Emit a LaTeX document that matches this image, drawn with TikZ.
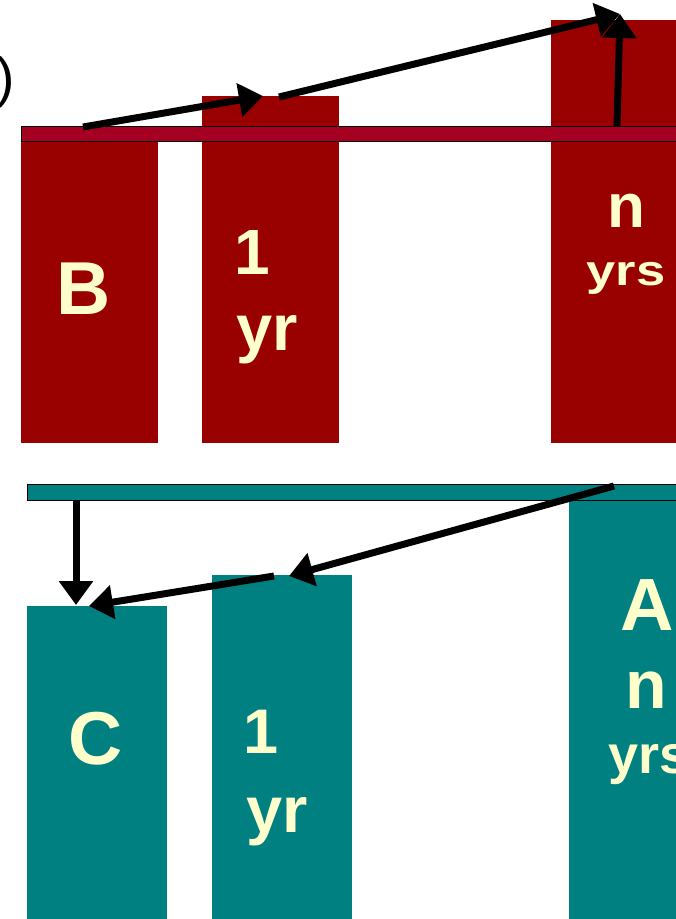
\documentclass[tikz,border=0pt]{standalone}
\usepackage{fontspec}
\setmainfont{Liberation Sans}
\usetikzlibrary{arrows.meta}
\definecolor{barred}{HTML}{990000}
\definecolor{stripred}{HTML}{A50021}
\definecolor{barteal}{HTML}{008080}
\definecolor{cream}{HTML}{FFFFCC}
\newcommand\myfs[1]{\fontsize{#1}{#1}\selectfont}
\begin{document}
\begin{tikzpicture}[x=1pt,y=-1pt,
  strip/.style={draw=black,line width=1pt},
  lbl/.style={text=cream,inner sep=0pt,anchor=base},
  arr/.style={line width=7pt,-{Triangle[length=24pt,width=33pt]}}
]
\useasboundingbox (0,0) rectangle (676,919);
\clip (0,0) rectangle (676,919);
% top (red) bars
\fill[barred] (21,141) rectangle (158,443);
\fill[barred] (202,96) rectangle (339,443);
\fill[barred] (551,20) rectangle (690,443);
\draw[strip,fill=stripred] (21,126) rectangle (690,141);
% bottom (teal) bars
\fill[barteal] (27,606) rectangle (167,930);
\fill[barteal] (212,575) rectangle (352,930);
\fill[barteal] (569,499) rectangle (690,930);
\draw[strip,fill=barteal] (27,484) rectangle (690,500);
% partial paren
\node[inner sep=0pt,font=\myfs{55}] (paren) at (5.5,82) {)};
% labels top
\node[lbl,font=\myfs{75}\bfseries] (lB) at (83.5,314) {B};
\node[lbl,font=\myfs{64}\bfseries] (l1a) at (252,274) {1};
\node[lbl,font=\myfs{65}\bfseries] (lyra) at (267,350) {yr};
\node[lbl,font=\myfs{62}\bfseries] (lna) at (626.5,227) {n};
\node[lbl,font=\myfs{43}\bfseries,xscale=1.22] (lyrsa) at (626,285) {yrs};
% labels bottom
\node[lbl,font=\myfs{75}\bfseries] (lC) at (96,764) {C};
\node[lbl,font=\myfs{63}\bfseries] (l1b) at (261,753) {1};
\node[lbl,font=\myfs{65}\bfseries] (lyrb) at (277,832) {yr};
\node[lbl,font=\myfs{74}\bfseries] (lA) at (647,630) {A};
\node[lbl,font=\myfs{68}\bfseries] (lnb) at (646.5,708) {n};
\node[lbl,font=\myfs{54}\bfseries,anchor=base west] (lyrsb) at (608,773) {yrs};
% arrow endpoints
\coordinate (a1s) at (83,127);
\coordinate (a1e) at (263,96);
\coordinate (a2s) at (279,97);
\coordinate (a2e) at (620,14);
\coordinate (a3s) at (617,126);
\coordinate (a3e) at (620,14);
\coordinate (b1s) at (76,500);
\coordinate (b1e) at (76,605);
\coordinate (b2s) at (274,576);
\coordinate (b2e) at (89,606);
\coordinate (b3s) at (614,486);
\coordinate (b3e) at (289,576);
\draw[arr] (a1s) -- (a1e);
\draw[arr] (a2s) -- (a2e);
\draw[arr] (a3s) -- (a3e);
\draw[arr] (b1s) -- (b1e);
\draw[arr] (b2s) -- (b2e);
\draw[arr] (b3s) -- (b3e);
\end{tikzpicture}
\end{document}
